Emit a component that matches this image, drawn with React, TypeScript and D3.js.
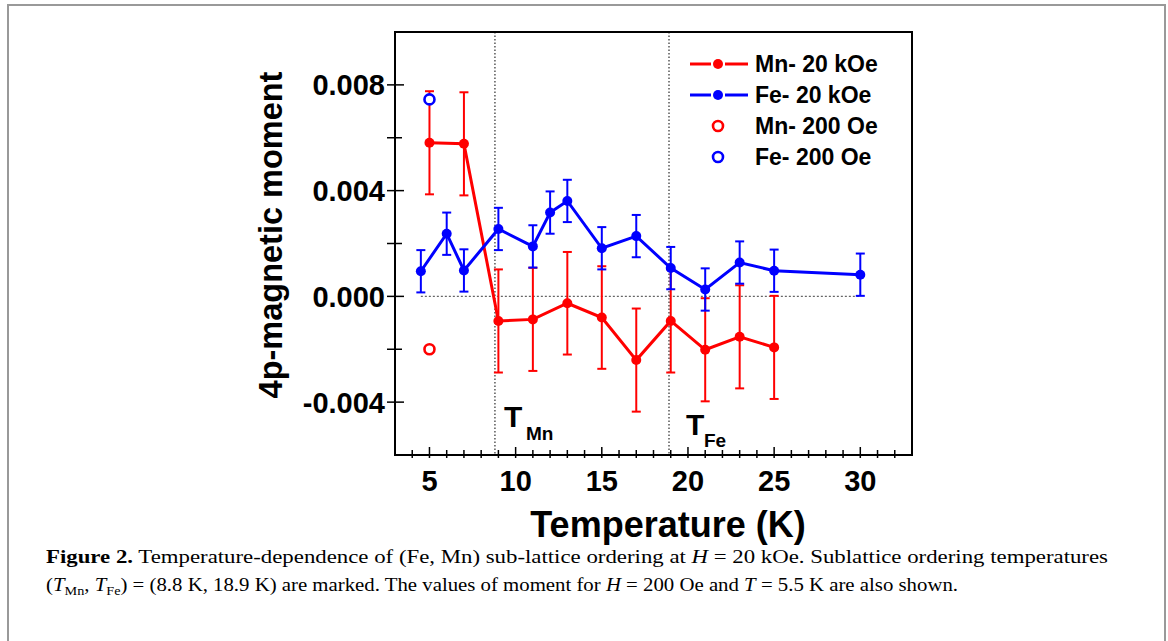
import React from "react";
import * as d3 from "d3";

// Fe sub-lattice, H = 20 kOe
const feT = [4.5, 6, 7, 9, 11, 12, 13, 15, 17, 19, 21, 23, 25, 30];
const feM = [0.00095, 0.00237, 0.00098, 0.00255, 0.00189, 0.00317, 0.00361, 0.00182, 0.00228, 0.00107, 0.00026, 0.00128, 0.00097, 0.00082];
const feErr = [0.0008, 0.0008, 0.0008, 0.0008, 0.0008, 0.0008, 0.0008, 0.0008, 0.0008, 0.0008, 0.0008, 0.0008, 0.0008, 0.0008];

// Mn sub-lattice, H = 20 kOe
const mnT = [5, 7, 9, 11, 13, 15, 17, 19, 21, 23, 25];
const mnM = [0.00581, 0.00577, -0.00093, -0.00087, -0.00026, -0.0008, -0.00241, -0.00093, -0.00202, -0.00153, -0.00193];
const mnErr = [0.00195, 0.00195, 0.00195, 0.00195, 0.00194, 0.00194, 0.00195, 0.00195, 0.00195, 0.00195, 0.00195];

// H = 200 Oe
const lowT = [5, 5];
const lowM = [-0.002, 0.00745];
const lowColor = ["#ff0000", "#0000ff"];

// ordering temperatures
const tMn = 8.8;
const tFe = 18.9;

const xMajor = [5, 10, 15, 20, 25, 30];
const xMinor = d3.range(4, 33).filter((t) => t % 5 !== 0);
const yMajor = [-0.004, 0, 0.004, 0.008];
const yMinor = [-0.002, 0.002, 0.006];

const legendItems = [
  { label: "Mn- 20 kOe", color: "#ff0000", filled: true },
  { label: "Fe- 20 kOe", color: "#0000ff", filled: true },
  { label: "Mn- 200 Oe", color: "#ff0000", filled: false },
  { label: "Fe- 200 Oe", color: "#0000ff", filled: false },
];

const RED = "#ff0000";
const BLUE = "#0000ff";
const FONT = "'Liberation Sans', Arial, Helvetica, sans-serif";
const SERIF = "'Liberation Serif', 'Times New Roman', serif";

const App = () => {
  const left = 395, right = 912, top = 32, bottom = 455;
  const x = d3.scaleLinear().domain([3, 33]).range([left, right]);
  const y = d3.scaleLinear().domain([-0.006, 0.01]).range([bottom, top]);

  const mnPath = d3.line<number>()
    .x((_, i) => x(mnT[i]))
    .y((d) => y(d))(mnM);
  const fePath = d3.line<number>()
    .x((_, i) => x(feT[i]))
    .y((d) => y(d))(feM);

  // vertical error bars with caps
  const errBars = (ts: number[], ms: number[], es: number[], color: string) =>
    ts.map((t, i) => {
      const cx = x(t);
      const y1 = y(ms[i] + es[i]);
      const y2 = y(ms[i] - es[i]);
      return (
        <g key={i} stroke={color} strokeWidth={2}>
          <line x1={cx} x2={cx} y1={y1} y2={y2} />
          <line x1={cx - 4.5} x2={cx + 4.5} y1={y1} y2={y1} />
          <line x1={cx - 4.5} x2={cx + 4.5} y1={y2} y2={y2} />
        </g>
      );
    });

  return (
    <svg width={1168} height={641} style={{ position: "absolute", left: 0, top: 0, background: "#fff" }}>
      {/* outer figure border */}
      <rect x={8} y={5} width={1157} height={660} fill="none" stroke="#999" strokeWidth={2} />

      {/* reference lines */}
      <line x1={x(4.5)} x2={x(30)} y1={y(0)} y2={y(0)} stroke="#666" strokeWidth={1.2} strokeDasharray="2,2" />
      {[tMn, tFe].map((t) => (
        <line key={t} x1={x(t)} x2={x(t)} y1={top} y2={bottom} stroke="#000" strokeWidth={1} strokeDasharray="1.5,2" />
      ))}

      {/* Mn 20 kOe */}
      {errBars(mnT, mnM, mnErr, RED)}
      <path d={mnPath ?? ""} fill="none" stroke={RED} strokeWidth={3} />
      {mnT.map((t, i) => (
        <circle key={i} cx={x(t)} cy={y(mnM[i])} r={5} fill={RED} />
      ))}

      {/* Fe 20 kOe */}
      {errBars(feT, feM, feErr, BLUE)}
      <path d={fePath ?? ""} fill="none" stroke={BLUE} strokeWidth={3} />
      {feT.map((t, i) => (
        <circle key={i} cx={x(t)} cy={y(feM[i])} r={5} fill={BLUE} />
      ))}

      {/* 200 Oe */}
      {lowT.map((t, i) => (
        <circle key={i} cx={x(t)} cy={y(lowM[i])} r={5} fill="#fff" stroke={lowColor[i]} strokeWidth={2.6} />
      ))}

      {/* frame */}
      <rect x={left} y={top} width={right - left} height={bottom - top} fill="none" stroke="#000" strokeWidth={2} />

      {/* x ticks */}
      {xMajor.map((t) => (
        <g key={t}>
          <line x1={x(t)} x2={x(t)} y1={bottom + 3} y2={bottom - 8} stroke="#000" strokeWidth={1.5} />
          <text x={x(t)} y={491} textAnchor="middle" fontFamily={FONT} fontWeight="bold" fontSize={29}>{t}</text>
        </g>
      ))}
      {xMinor.map((t) => (
        <line key={t} x1={x(t)} x2={x(t)} y1={bottom + 3} y2={bottom - 5} stroke="#000" strokeWidth={1.5} />
      ))}

      {/* y ticks */}
      {yMajor.map((v) => (
        <g key={v}>
          <line x1={left - 8} x2={left + 9} y1={y(v)} y2={y(v)} stroke="#000" strokeWidth={1.5} />
          <text x={385} y={y(v)} dy="0.36em" textAnchor="end" fontFamily={FONT} fontWeight="bold" fontSize={29}>
            {d3.format(".3f")(v).replace("−", "-")}
          </text>
        </g>
      ))}
      {yMinor.map((v) => (
        <line key={v} x1={left - 8} x2={left + 7} y1={y(v)} y2={y(v)} stroke="#000" strokeWidth={1.5} />
      ))}

      {/* axis titles */}
      <text x={668} y={537} textAnchor="middle" fontFamily={FONT} fontWeight="bold" fontSize={36}>Temperature (K)</text>
      <text transform={`translate(282,235) rotate(-90)`} textAnchor="middle" fontFamily={FONT} fontWeight="bold" fontSize={32.5}>
        4p-magnetic moment
      </text>

      {/* ordering temperature labels */}
      <text x={504} y={427} fontFamily={FONT} fontWeight="bold" fontSize={30}>T</text>
      <text x={526} y={440} fontFamily={FONT} fontWeight="bold" fontSize={19}>Mn</text>
      <text x={686} y={435} fontFamily={FONT} fontWeight="bold" fontSize={30}>T</text>
      <text x={704} y={447} fontFamily={FONT} fontWeight="bold" fontSize={19}>Fe</text>

      {/* legend */}
      {legendItems.map((d, i) => {
        const ly = 64 + i * 31;
        return (
          <g key={d.label}>
            {d.filled ? (
              <>
                <line x1={690} x2={711} y1={ly} y2={ly} stroke={d.color} strokeWidth={3} />
                <line x1={725} x2={748} y1={ly} y2={ly} stroke={d.color} strokeWidth={3} />
                <circle cx={718} cy={ly} r={5} fill={d.color} />
              </>
            ) : (
              <circle cx={718} cy={ly} r={5} fill="#fff" stroke={d.color} strokeWidth={2.6} />
            )}
            <text x={755} y={ly} dy="0.36em" fontFamily={FONT} fontWeight="bold" fontSize={23}>{d.label}</text>
          </g>
        );
      })}

      {/* caption */}
      <text x={46} y={563} fontFamily={SERIF} fontSize={19} textLength={1062} lengthAdjust="spacingAndGlyphs">
        <tspan fontWeight="bold">Figure 2.</tspan>
        <tspan> Temperature-dependence of (Fe, Mn) sub-lattice ordering at </tspan>
        <tspan fontStyle="italic">H</tspan>
        <tspan> = 20 kOe. Sublattice ordering temperatures</tspan>
      </text>
      <text x={46} y={591} fontFamily={SERIF} fontSize={19} textLength={912} lengthAdjust="spacingAndGlyphs">
        <tspan>(</tspan>
        <tspan fontStyle="italic">T</tspan>
        <tspan fontSize={13} dy={4}>Mn</tspan>
        <tspan dy={-4}>, </tspan>
        <tspan fontStyle="italic">T</tspan>
        <tspan fontSize={13} dy={4}>Fe</tspan>
        <tspan dy={-4}>) = (8.8 K, 18.9 K) are marked. The values of moment for </tspan>
        <tspan fontStyle="italic">H</tspan>
        <tspan> = 200 Oe and </tspan>
        <tspan fontStyle="italic">T</tspan>
        <tspan> = 5.5 K are also shown.</tspan>
      </text>
    </svg>
  );
};

export default App;
